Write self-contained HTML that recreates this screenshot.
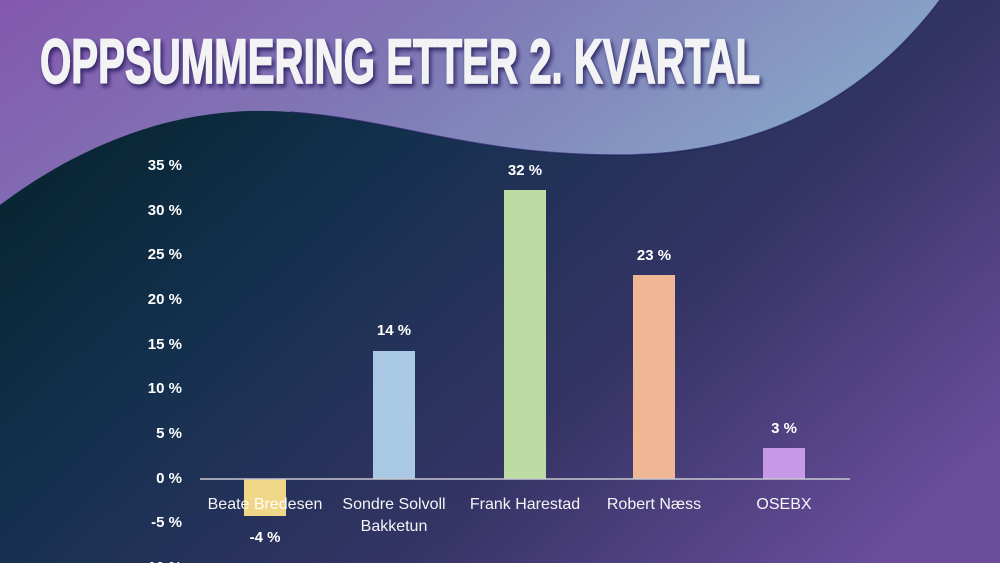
<!DOCTYPE html>
<html><head><meta charset="utf-8"><style>
body{margin:0;width:1000px;height:563px;overflow:hidden;font-family:"Liberation Sans",sans-serif}
</style></head><body>
<svg width="1000" height="563" viewBox="0 0 1000 563" xmlns="http://www.w3.org/2000/svg">
<defs>
<linearGradient id="top" x1="0" y1="0" x2="1" y2="0.3">
<stop offset="0" stop-color="#8458ad"/><stop offset="0.5" stop-color="#8079b6"/><stop offset="1" stop-color="#88a6c8"/>
</linearGradient>
<linearGradient id="bot" x1="0" y1="0.2" x2="1" y2="0.8">
<stop offset="0" stop-color="#06222c"/><stop offset="0.3" stop-color="#12304c"/><stop offset="0.65" stop-color="#353465"/><stop offset="1" stop-color="#6a4e9c"/>
</linearGradient>
<filter id="sh"><feDropShadow dx="2" dy="3" stdDeviation="2" flood-color="#1a1050" flood-opacity="0.8"/></filter>
</defs>
<rect width="1000" height="563" fill="url(#bot)"/>
<path d="M0,0 L940,0 C880,80 780,155 620,155 C470,155 400,120 290,112 C200,105 100,130 0,205 Z" fill="url(#top)"/>
<path d="M940,0 C880,80 780,155 620,155 C470,155 400,120 290,112" fill="none" stroke="#1c1a5a" stroke-width="1.5" opacity="0.6"/>
<text x="40" y="83" font-family="Liberation Sans Narrow, Liberation Sans, sans-serif" font-weight="bold" font-size="63" fill="#f3f3f5" stroke="#f3f3f5" stroke-width="1.5" textLength="720" lengthAdjust="spacingAndGlyphs" filter="url(#sh)">OPPSUMMERING ETTER 2. KVARTAL</text>
<g font-weight="bold" font-size="15" fill="#fff" text-anchor="end">
<text x="182" y="170">35 %</text><text x="182" y="215">30 %</text><text x="182" y="259">25 %</text>
<text x="182" y="304">20 %</text><text x="182" y="349">15 %</text><text x="182" y="393">10 %</text>
<text x="182" y="438">5 %</text><text x="182" y="483">0 %</text><text x="182" y="527">-5 %</text><text x="182" y="572">-10 %</text>
</g>
<rect x="244" y="479" width="42" height="37" fill="#f0d787"/>
<rect x="373" y="351" width="42" height="128" fill="#a8c8e4"/>
<rect x="504" y="190" width="42" height="289" fill="#bddca3"/>
<rect x="633" y="275" width="42" height="204" fill="#f0b794"/>
<rect x="763" y="448" width="42" height="31" fill="#c79ae8"/>
<line x1="200" y1="479" x2="850" y2="479" stroke="#c8c8d0" stroke-width="1.5"/>
<g font-weight="bold" font-size="15" fill="#fff" text-anchor="middle">
<text x="265" y="542">-4 %</text><text x="394" y="335">14 %</text><text x="525" y="175">32 %</text>
<text x="654" y="260">23 %</text><text x="784" y="433">3 %</text>
</g>
<g font-size="16" fill="#fff" text-anchor="middle" opacity="0.95">
<text x="265" y="509">Beate Bredesen</text>
<text x="394" y="509">Sondre Solvoll</text><text x="394" y="531">Bakketun</text>
<text x="525" y="509">Frank Harestad</text>
<text x="654" y="509">Robert Næss</text>
<text x="784" y="509">OSEBX</text>
</g>
</svg>
</body></html>
